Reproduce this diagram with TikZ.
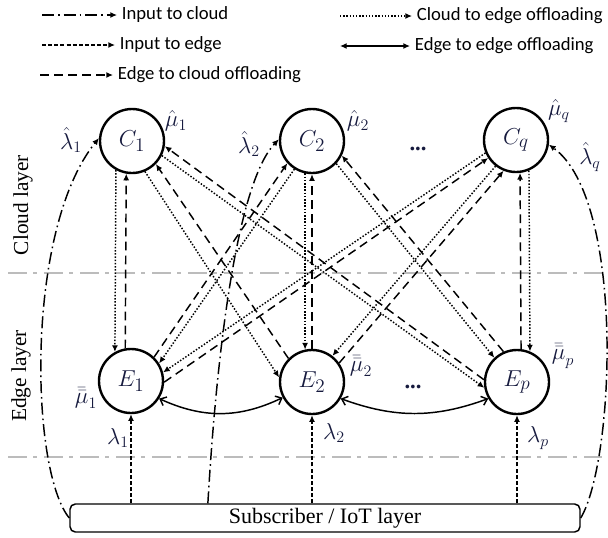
\documentclass[tikz,border=0pt]{standalone}
\usepackage{fontspec}
\setmainfont{Liberation Serif}
\newfontfamily\legfont{Carlito}
\usetikzlibrary{arrows.meta,calc}
\definecolor{ink}{RGB}{22,26,62}
\definecolor{sepgray}{RGB}{188,188,188}

\begin{document}
\begin{tikzpicture}[x=0.75pt,y=-0.75pt,
  every node/.style={inner sep=0pt},
  layernode/.style={circle,draw,line width=1.8pt,minimum size=48pt,
    font=\fontsize{19}{21}\selectfont,text=ink},
  tip/.style={-{Latex[length=5pt,width=4.5pt]}},
  c2e/.style={tip,line width=1.1pt,dash pattern=on 1.1pt off 1.3pt},
  e2c/.style={tip,line width=1.1pt,dash pattern=on 6.5pt off 4pt},
  inedge/.style={tip,line width=1.1pt,dash pattern=on 3pt off 1.6pt},
  incloud/.style={tip,line width=1.1pt,dash pattern=on 9pt off 3pt on 1.2pt off 3pt},
  e2e/.style={{Straight Barb[length=4pt,width=7pt]}-{Straight Barb[length=4pt,width=7pt]},line width=1.1pt},
  legboth/.style={{Latex[length=5pt,width=4.5pt]}-{Latex[length=5pt,width=4.5pt]},line width=1.1pt},
  sepline/.style={sepgray,line width=2.2pt,dash pattern=on 14pt off 5pt on 3pt off 5pt},
  lbl/.style={font=\fontsize{17}{19}\selectfont,text=ink},
  legtext/.style={anchor=west,inner xsep=3.5pt,font=\legfont\fontsize{14}{16}\selectfont},
  laytext/.style={rotate=90,font=\fontsize{16}{18}\selectfont}
]
\useasboundingbox (0,0) rectangle (608,537);

% ---- legend ----
\node[legtext] (lg1) at (117,15) {Input to cloud};
\node[legtext] (lg2) at (115,45) {Input to edge};
\node[legtext] (lg3) at (113,75) {Edge to cloud offloading};
\node[legtext] (lg4) at (412,16) {Cloud to edge offloading};
\node[legtext] (lg5) at (410,46) {Edge to edge offloading};
\coordinate (lg1s) at (42,15);
\coordinate (lg2s) at (42,45);
\coordinate (lg3s) at (40,75);
\coordinate (lg4s) at (340,16);
\coordinate (lg5s) at (340,46);
\draw[incloud] (lg1s) -- (lg1.west);
\draw[inedge]  (lg2s) -- (lg2.west);
\draw[e2c]     (lg3s) -- (lg3.west);
\draw[c2e]     (lg4s) -- (lg4.west);
\draw[legboth] (lg5s) -- (lg5.west);

% ---- layer separators and names ----
\coordinate (sa1) at (8,273);  \coordinate (sa2) at (602,273);
\coordinate (sb1) at (8,457);  \coordinate (sb2) at (602,457);
\draw[sepline] (sa1) -- (sa2);
\draw[sepline] (sb1) -- (sb2);
\node[laytext] (cloudlayer) at (23,205) {Cloud layer};
\node[laytext] (edgelayer) at (21,376) {Edge layer};

% ---- servers ----
\node[layernode] (C1) at (132,141) {$C_1$};
\node[layernode] (C2) at (312,141) {$C_2$};
\node[layernode] (Cq) at (516,140) {$C_q$};
\node[layernode] (E1) at (131,381) {$E_1$};
\node[layernode] (E2) at (312,382) {$E_2$};
\node[layernode] (Ep) at (517,382) {$E_p$};
\node[lbl] (dotsC) at (418,149) {\textbf{...}};
\node[lbl] (dotsE) at (413,387) {\textbf{...}};

% ---- subscriber layer ----
\node[draw,line width=1.1pt,rounded corners=4pt,minimum width=382.5pt,
      minimum height=21pt,font=\fontsize{16.5}{18}\selectfont] (sub) at (325,518)
      {Subscriber / IoT layer};

% ---- vertical pairs ----
\draw[c2e] (C1.-119) -- (E1.119);
\draw[e2c] (E1.100) -- (C1.-100);
\draw[c2e] (C2.-102) -- (E2.102);
\draw[e2c] (E2.90) -- (C2.-90);
\draw[e2c] (Ep.83) -- (Cq.-83);
\draw[c2e] (Cq.-67) -- (Ep.67);

% ---- crossing pairs ----
\draw[c2e] (C1.-67) -- (E2.172);
\draw[e2c] (E2.135) -- (C1.-44);
\draw[c2e] (C1.-26) -- (Ep.190);
\draw[e2c] (Ep.176) -- (C1.-9);
\draw[c2e] (C2.-122) -- (E1.32);
\draw[e2c] (E1.46) -- (C2.-138);
\draw[c2e] (C2.-43) -- (Ep.133);
\draw[e2c] (Ep.114) -- (C2.-26);
\draw[c2e] (Cq.-157) -- (E1.15);
\draw[e2c] (E1.-2) -- (Cq.-147);
\draw[c2e] (Cq.-128) -- (E2.52);
\draw[e2c] (E2.35) -- (Cq.-112);

% ---- edge to edge ----
\draw[e2e] (E1.-32) to[bend right=25] (E2.-152);
\draw[e2e] (E2.-30) to[bend right=20] (Ep.-150);

% ---- inputs ----
\draw[inedge] (sub.north -| E1) -- (E1.south);
\draw[inedge] (sub.north -| E2) -- (E2.south);
\draw[inedge] (sub.north -| Ep) -- (Ep.south);
\coordinate (s2) at ($(sub.north west)!0.271!(sub.north east)$);
\draw[incloud] (sub.west) .. controls (30,470) and (25,230) .. (C1.175);
\draw[incloud] (s2) .. controls (218,330) and (240,180) .. (C2.177);
\draw[incloud] (sub.east) .. controls (615,460) and (625,200) .. (Cq.-8);

% ---- rates ----
\node[lbl] (lc1) at (71,140) {$\hat{\lambda}_1$};
\node[lbl] (lc2) at (249,144) {$\hat{\lambda}_2$};
\node[lbl] (lcq) at (590,157) {$\hat{\lambda}_q$};
\node[lbl] (mc1) at (176,121) {$\hat{\mu}_1$};
\node[lbl] (mc2) at (358,121) {$\hat{\mu}_2$};
\node[lbl] (mcq) at (559,111) {$\hat{\mu}_q$};
\node[lbl] (me1) at (86,398) {$\bar{\bar{\mu}}_1$};
\node[lbl] (me2) at (361,366) {$\bar{\bar{\mu}}_2$};
\node[lbl] (mep) at (563,356) {$\bar{\bar{\mu}}_p$};
\node[lbl] (le1) at (118,438) {$\lambda_1$};
\node[lbl] (le2) at (334,433) {$\lambda_2$};
\node[lbl] (lep) at (538,438) {$\lambda_p$};
\end{tikzpicture}
\end{document}
